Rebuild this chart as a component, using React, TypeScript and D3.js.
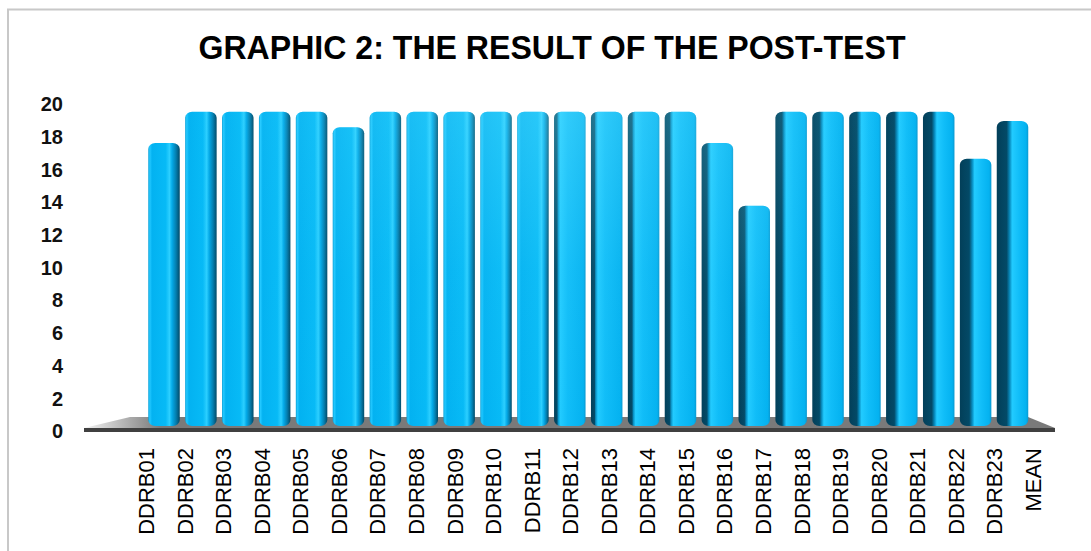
import React from 'react';
import * as d3 from 'd3';

// chart data
const categories = [
  'DDRB01', 'DDRB02', 'DDRB03', 'DDRB04', 'DDRB05', 'DDRB06', 'DDRB07', 'DDRB08',
  'DDRB09', 'DDRB10', 'DDRB11', 'DDRB12', 'DDRB13', 'DDRB14', 'DDRB15', 'DDRB16',
  'DDRB17', 'DDRB18', 'DDRB19', 'DDRB20', 'DDRB21', 'DDRB22', 'DDRB23', 'MEAN',
];
const scores = [17, 19, 19, 19, 19, 18, 19, 19, 19, 19, 19, 19, 19, 19, 19, 17, 13, 19, 19, 19, 19, 19, 16, 18.4];
const yTicks = [0, 2, 4, 6, 8, 10, 12, 14, 16, 18, 20];
const title = 'GRAPHIC 2: THE RESULT OF THE POST-TEST';

const W = 1091;
const H = 551;

// front edge (axis labels) and back (bars) of the 3d floor
const xFront = d3.scalePoint<string>().domain(categories).range([146, 1033]);
const xBar = d3.scalePoint<string>().domain(categories).range([164, 1012.5]);
const yFront = d3.scaleLinear().domain([0, 20]).range([431, 104]);
const yBar = d3.scaleLinear().domain([0, 20]).range([409.4, 96]);
const floorY = 426;
const barW = 31.5;

const floor = { x0: 84, x1: 1055, backX0: 130, backX1: 1028, backY: 417, frontY: 428, bottom: 432 };

function barStops(t: number) {
  // t < 0 : left of viewer -> right side visible, t > 0 : left side visible
  if (t < 0) {
    const s = 0.14 + 0.12 * Math.min(1, -t);
    const e = 1 - s;
    return [
      [0, '#0a9fd6'], [0.05, '#22c8ff'], [0.12, '#03b2f1'], [e - 0.2, '#07baf6'],
      [e - 0.08, '#2ccfff'], [e, '#04aae8'], [e + s * 0.5, '#047fb0'], [1, '#024a68'],
    ];
  }
  const s = 0.12 + 0.3 * Math.min(1, t);
  return [
    [0, '#023f59'], [s * 0.75, '#034a67'], [s, '#0890c4'], [s + 0.07, '#22cbff'],
    [s + 0.3, '#10bdf8'], [0.93, '#04b2f0'], [1, '#0a98d0'],
  ];
}

export default function App() {
  const center = 560;
  return (
    <svg width={W} height={H} style={{ position: 'absolute', left: 0, top: 0, background: '#fff' }}
      fontFamily="'Liberation Sans', Arial, sans-serif">
      <defs>
        <linearGradient id="floorTop" x1="84" x2="160" y1="0" y2="0" gradientUnits="userSpaceOnUse">
          <stop offset="0" stopColor="#f4f4f4" />
          <stop offset="1" stopColor="#7a7a7a" />
        </linearGradient>
        <linearGradient id="sheen" x1="0" x2="0" y1="0" y2="1">
          <stop offset="0" stopColor="#6fe6ff" stopOpacity="0.35" />
          <stop offset="0.5" stopColor="#6fe6ff" stopOpacity="0.08" />
          <stop offset="1" stopColor="#6fe6ff" stopOpacity="0" />
        </linearGradient>
        {categories.map((c, i) => {
          const t = (xBar(c)! - center) / 450;
          return (
            <linearGradient key={c} id={`bar${i}`} x1="0" x2="1" y1="0" y2="0">
              {barStops(t).map(([o, col], k) => (
                <stop key={k} offset={o as number} stopColor={col as string} />
              ))}
            </linearGradient>
          );
        })}
      </defs>

      <rect x={8} y={9.5} width={1100} height={560} fill="none" stroke="#c8c8c8" strokeWidth={2} />

      <text x={552} y={59} textAnchor="middle" fontSize={34} fontWeight="bold"
        textLength={707} lengthAdjust="spacingAndGlyphs">{title}</text>

      {yTicks.map(v => (
        <text key={v} x={63} y={yFront(v)} dy="0.36em" textAnchor="end" fontSize={20} fontWeight="bold"
          fill="#111">{v}</text>
      ))}

      <polygon
        points={`${floor.x0},${floor.frontY} ${floor.backX0},${floor.backY} ${floor.backX1},${floor.backY} ${floor.x1},${floor.frontY}`}
        fill="url(#floorTop)" />
      <rect x={floor.x0} y={floor.frontY} width={floor.x1 - floor.x0} height={floor.bottom - floor.frontY} fill="#404040" />

      {categories.map((c, i) => {
        const x = xBar(c)! - barW / 2;
        const y = yBar(scores[i]);
        const t = Math.abs((xBar(c)! - center) / 450);
        return (
          <g key={c}>
            <rect x={x} y={y} width={barW} height={floorY - y} rx={7} ry={6} fill={`url(#bar${i})`} />
            <rect x={x} y={y} width={barW} height={floorY - y} rx={7} ry={6} fill="url(#sheen)"
              opacity={Math.max(0, 1 - t * 1.2)} />
          </g>
        );
      })}

      {categories.map(c => (
        <text key={c} transform={`translate(${xFront(c)! + 8},448) rotate(-90)`} textAnchor="end"
          fontSize={22} fill="#000">{c}</text>
      ))}
    </svg>
  );
}
